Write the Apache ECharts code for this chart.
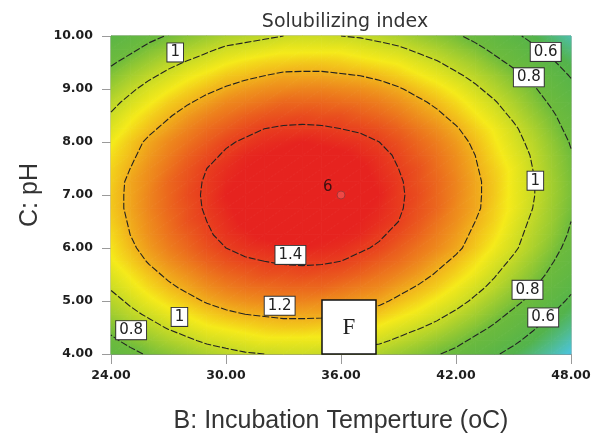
<!DOCTYPE html>
<html>
<head>
<meta charset="utf-8">
<script src="https://cdn.jsdelivr.net/npm/echarts@6/dist/echarts.min.js"></script>
<style>
  html, body { margin: 0; padding: 0; background: #fff; }
  #chart { width: 594px; height: 439px; }
</style>
</head>
<body>
<div id="chart"></div>
<script>
// Grid nodes of the response surface: incubation temperature (°C) × pH
const temperature = [24, 25, 26, 27, 28, 29, 30, 31, 32, 33, 34, 35, 36, 37, 38, 39, 40, 41, 42, 43, 44, 45, 46, 47, 48];
const pH = [4.00, 4.25, 4.50, 4.75, 5.00, 5.25, 5.50, 5.75, 6.00, 6.25, 6.50, 6.75, 7.00,
            7.25, 7.50, 7.75, 8.00, 8.25, 8.50, 8.75, 9.00, 9.25, 9.50, 9.75, 10.00];

// Solubilizing index; one row per pH value (low to high), one column per temperature
const solubilizingIndex = [
  [0.70,0.76,0.82,0.86,0.90,0.94,0.97,0.99,1.00,1.01,1.01,1.00,0.98,0.96,0.94,0.90,0.86,0.81,0.76,0.69,0.62,0.55,0.47,0.38,0.28],
  [0.77,0.84,0.89,0.94,0.98,1.02,1.04,1.06,1.08,1.08,1.08,1.08,1.06,1.04,1.02,0.98,0.94,0.89,0.84,0.77,0.71,0.63,0.55,0.46,0.36],
  [0.84,0.91,0.96,1.01,1.05,1.09,1.11,1.13,1.15,1.16,1.16,1.15,1.14,1.12,1.09,1.05,1.01,0.97,0.91,0.85,0.78,0.71,0.62,0.53,0.44],
  [0.91,0.97,1.02,1.07,1.11,1.15,1.18,1.20,1.21,1.22,1.22,1.22,1.20,1.18,1.16,1.12,1.08,1.03,0.98,0.92,0.85,0.77,0.69,0.60,0.51],
  [0.96,1.02,1.08,1.13,1.17,1.21,1.24,1.26,1.27,1.28,1.28,1.27,1.26,1.24,1.22,1.18,1.14,1.09,1.04,0.98,0.91,0.84,0.76,0.67,0.57],
  [1.01,1.07,1.13,1.18,1.22,1.26,1.29,1.31,1.32,1.33,1.33,1.33,1.31,1.29,1.27,1.23,1.19,1.15,1.09,1.03,0.97,0.89,0.81,0.72,0.63],
  [1.05,1.11,1.17,1.22,1.26,1.30,1.33,1.35,1.37,1.37,1.38,1.37,1.36,1.34,1.31,1.28,1.24,1.19,1.14,1.08,1.01,0.94,0.86,0.77,0.68],
  [1.09,1.15,1.21,1.26,1.30,1.34,1.37,1.39,1.40,1.41,1.41,1.41,1.40,1.38,1.35,1.32,1.28,1.23,1.18,1.12,1.05,0.98,0.90,0.81,0.72],
  [1.11,1.18,1.24,1.29,1.33,1.37,1.40,1.42,1.43,1.44,1.45,1.44,1.43,1.41,1.39,1.35,1.31,1.27,1.22,1.16,1.09,1.02,0.94,0.85,0.75],
  [1.13,1.20,1.26,1.31,1.35,1.39,1.42,1.44,1.46,1.47,1.47,1.46,1.45,1.44,1.41,1.38,1.34,1.29,1.24,1.18,1.12,1.04,0.96,0.88,0.78],
  [1.15,1.21,1.27,1.32,1.37,1.40,1.43,1.46,1.47,1.48,1.49,1.48,1.47,1.45,1.43,1.40,1.36,1.31,1.26,1.20,1.14,1.06,0.98,0.90,0.80],
  [1.16,1.22,1.28,1.33,1.37,1.41,1.44,1.47,1.48,1.49,1.50,1.49,1.48,1.46,1.44,1.41,1.37,1.33,1.27,1.22,1.15,1.08,1.00,0.91,0.82],
  [1.16,1.22,1.28,1.33,1.38,1.41,1.45,1.47,1.49,1.50,1.50,1.50,1.49,1.47,1.45,1.41,1.38,1.33,1.28,1.22,1.16,1.08,1.01,0.92,0.83],
  [1.15,1.22,1.27,1.33,1.37,1.41,1.44,1.46,1.48,1.49,1.50,1.49,1.48,1.47,1.44,1.41,1.37,1.33,1.28,1.22,1.16,1.08,1.01,0.92,0.83],
  [1.14,1.20,1.26,1.31,1.36,1.40,1.43,1.45,1.47,1.48,1.49,1.48,1.47,1.46,1.43,1.40,1.37,1.32,1.27,1.21,1.15,1.08,1.00,0.91,0.82],
  [1.12,1.18,1.24,1.29,1.34,1.38,1.41,1.44,1.45,1.46,1.47,1.47,1.46,1.44,1.42,1.39,1.35,1.31,1.26,1.20,1.13,1.06,0.99,0.90,0.81],
  [1.09,1.16,1.22,1.27,1.31,1.35,1.39,1.41,1.43,1.44,1.45,1.44,1.43,1.42,1.40,1.37,1.33,1.29,1.24,1.18,1.11,1.04,0.97,0.88,0.79],
  [1.05,1.12,1.18,1.23,1.28,1.32,1.35,1.38,1.40,1.41,1.41,1.41,1.40,1.39,1.37,1.34,1.30,1.26,1.21,1.15,1.09,1.02,0.94,0.85,0.76],
  [1.01,1.08,1.14,1.19,1.24,1.28,1.31,1.34,1.36,1.37,1.38,1.37,1.37,1.35,1.33,1.30,1.26,1.22,1.17,1.11,1.05,0.98,0.90,0.82,0.73],
  [0.97,1.03,1.09,1.15,1.19,1.23,1.27,1.29,1.31,1.33,1.33,1.33,1.32,1.31,1.29,1.26,1.22,1.18,1.13,1.07,1.01,0.94,0.86,0.78,0.69],
  [0.91,0.98,1.04,1.09,1.14,1.18,1.21,1.24,1.26,1.27,1.28,1.28,1.27,1.26,1.24,1.21,1.17,1.13,1.08,1.02,0.96,0.89,0.82,0.73,0.64],
  [0.85,0.92,0.98,1.03,1.08,1.12,1.16,1.18,1.20,1.22,1.22,1.22,1.21,1.20,1.18,1.15,1.11,1.07,1.02,0.97,0.91,0.84,0.76,0.68,0.59],
  [0.78,0.85,0.91,0.97,1.01,1.05,1.09,1.12,1.14,1.15,1.16,1.16,1.15,1.13,1.11,1.09,1.05,1.01,0.96,0.91,0.84,0.77,0.70,0.62,0.53],
  [0.71,0.77,0.84,0.89,0.94,0.98,1.02,1.04,1.06,1.08,1.08,1.08,1.08,1.06,1.04,1.02,0.98,0.94,0.89,0.84,0.77,0.71,0.63,0.55,0.46],
  [0.62,0.69,0.76,0.81,0.86,0.90,0.94,0.96,0.98,1.00,1.01,1.01,1.00,0.99,0.97,0.94,0.90,0.86,0.82,0.76,0.70,0.63,0.56,0.47,0.38]
];

// Contour levels and where each level's value is printed: [level, temperature, pH]
const contourLevels = [0.6, 0.8, 1.0, 1.2, 1.4];
const contourLabelSpots = [
  [1, 27.35, 9.69], [0.6, 46.68, 9.70], [0.8, 45.80, 9.22], [1, 46.14, 7.27],
  [1.4, 33.36, 5.87], [1.2, 32.80, 4.91], [1, 27.57, 4.70], [0.8, 25.05, 4.45],
  [0.8, 45.73, 5.21], [0.6, 46.55, 4.69]
];

// Design centre point and its number of replicate runs
const designCenter = [36, 7];
const centerReplicates = 6;

// Axis ticks
const temperatureTicks = [24, 30, 36, 42, 48];
const pHTicks = [4, 5, 6, 7, 8, 9, 10];

// Colour ramp of the surface (low = blue, high = red)
const rampStops = [
  [0.00, '#2b50d8'], [0.30, '#4cc3d6'], [0.55, '#53b34b'], [0.80, '#6dbb3c'],
  [1.10, '#f5ea1a'], [1.45, '#e6231f']
];

// ---------- colour helpers ----------
const rampRGB = rampStops.map(s => [s[0], [1, 3, 5].map(k => parseInt(s[1].substr(k, 2), 16))]);
function rampColor(v) {
  let rgb;
  if (v <= rampRGB[0][0]) rgb = rampRGB[0][1];
  else if (v >= rampRGB[rampRGB.length - 1][0]) rgb = rampRGB[rampRGB.length - 1][1];
  else {
    for (let k = 0; k < rampRGB.length - 1; k++) {
      const [v0, c0] = rampRGB[k], [v1, c1] = rampRGB[k + 1];
      if (v <= v1) {
        const t = (v - v0) / (v1 - v0);
        rgb = c0.map((c, n) => Math.round(c + t * (c1[n] - c)));
        break;
      }
    }
  }
  return 'rgb(' + rgb.join(',') + ')';
}

// Shade one triangle of a grid cell: the value varies linearly across it,
// so a single linear gradient (with the ramp's stops) paints it exactly.
function shadedTriangle(P, F) {
  const [x0, y0] = P[0];
  const d1x = P[1][0] - x0, d1y = P[1][1] - y0, d2x = P[2][0] - x0, d2y = P[2][1] - y0;
  const df1 = F[1] - F[0], df2 = F[2] - F[0];
  const det = d1x * d2y - d1y * d2x;
  const fmin = Math.min(F[0], F[1], F[2]), fmax = Math.max(F[0], F[1], F[2]);
  let fill;
  if (Math.abs(det) < 1e-9 || fmax - fmin < 1e-6) {
    fill = rampColor(F[0]);
  } else {
    const gx = (df1 * d2y - d1y * df2) / det;
    const gy = (d1x * df2 - d2x * df1) / det;
    const g2 = gx * gx + gy * gy;
    const ax = x0 + gx * (fmin - F[0]) / g2, ay = y0 + gy * (fmin - F[0]) / g2;
    const bx = x0 + gx * (fmax - F[0]) / g2, by = y0 + gy * (fmax - F[0]) / g2;
    const stops = [{ offset: 0, color: rampColor(fmin) }];
    rampStops.forEach(s => {
      if (s[0] > fmin && s[0] < fmax) stops.push({ offset: (s[0] - fmin) / (fmax - fmin), color: s[1] });
    });
    stops.push({ offset: 1, color: rampColor(fmax) });
    fill = new echarts.graphic.LinearGradient(ax, ay, bx, by, stops, true);
  }
  return { type: 'polygon', shape: { points: P }, style: { fill: fill, stroke: fill, lineWidth: 0.9 } };
}

// One item per grid cell: lower-left node and its indices
const cellData = [];
for (let j = 0; j < pH.length - 1; j++) {
  for (let i = 0; i < temperature.length - 1; i++) cellData.push([temperature[i], pH[j], i, j]);
}

// Marching squares over the grid cells, returning segments keyed by grid edge
function contourSegments(level) {
  const segs = [];
  for (let j = 0; j < pH.length - 1; j++) {
    for (let i = 0; i < temperature.length - 1; i++) {
      const z00 = solubilizingIndex[j][i], z10 = solubilizingIndex[j][i + 1];
      const z11 = solubilizingIndex[j + 1][i + 1], z01 = solubilizingIndex[j + 1][i];
      const P00 = [temperature[i], pH[j]], P10 = [temperature[i + 1], pH[j]];
      const P11 = [temperature[i + 1], pH[j + 1]], P01 = [temperature[i], pH[j + 1]];
      const pts = [];
      const cross = (za, zb, pa, pb, key) => {
        if ((za >= level) !== (zb >= level)) {
          const t = (level - za) / (zb - za);
          pts.push({ key, p: [pa[0] + t * (pb[0] - pa[0]), pa[1] + t * (pb[1] - pa[1])] });
        }
      };
      cross(z00, z10, P00, P10, 'h' + i + '_' + j);
      cross(z10, z11, P10, P11, 'v' + (i + 1) + '_' + j);
      cross(z01, z11, P01, P11, 'h' + i + '_' + (j + 1));
      cross(z00, z01, P00, P01, 'v' + i + '_' + j);
      if (pts.length === 2) {
        segs.push(pts);
      } else if (pts.length === 4) {
        const mid = (z00 + z10 + z11 + z01) / 4;
        if ((mid >= level) === (z00 >= level)) { segs.push([pts[0], pts[1]]); segs.push([pts[2], pts[3]]); }
        else { segs.push([pts[0], pts[3]]); segs.push([pts[1], pts[2]]); }
      }
    }
  }
  return segs;
}

// Join segments that share an edge into continuous polylines
function chainSegments(segs) {
  const byKey = new Map();
  segs.forEach((s, idx) => s.forEach(e => {
    if (!byKey.has(e.key)) byKey.set(e.key, []);
    byKey.get(e.key).push(idx);
  }));
  const used = new Array(segs.length).fill(false);
  const walk = (startIdx, entry) => {
    const pts = [];
    let idx = startIdx;
    while (idx !== undefined && !used[idx]) {
      used[idx] = true;
      const a = segs[idx][entry], b = segs[idx][1 - entry];
      if (!pts.length) pts.push(a.p);
      pts.push(b.p);
      const next = (byKey.get(b.key) || []).find(k => !used[k]);
      if (next === undefined) break;
      entry = segs[next][0].key === b.key ? 0 : 1;
      idx = next;
    }
    return pts;
  };
  const lines = [];
  segs.forEach((s, idx) => {
    if (used[idx]) return;
    if (byKey.get(s[0].key).length === 1) lines.push(walk(idx, 0));
    else if (byKey.get(s[1].key).length === 1) lines.push(walk(idx, 1));
  });
  segs.forEach((s, idx) => { if (!used[idx]) lines.push(walk(idx, 0)); });
  return lines;
}

const contourSeries = [];
contourLevels.forEach(level => {
  chainSegments(contourSegments(level)).forEach(line => {
    contourSeries.push({
      type: 'line',
      data: line,
      showSymbol: false,
      symbol: 'none',
      silent: true,
      z: 3,
      lineStyle: { color: '#222', width: 1.1, type: [7, 2] }
    });
  });
});

const chart = echarts.init(document.getElementById('chart'), null, { renderer: 'canvas' });

chart.setOption({
  backgroundColor: '#fff',
  animation: false,
  title: {
    text: 'Solubilizing index',
    left: 340,
    top: 8,
    textAlign: 'center',
    textStyle: { fontFamily: 'DejaVu Sans', fontSize: 19, fontWeight: 'normal', color: '#333' }
  },
  grid: {
    left: 111, right: 23, top: 36, bottom: 85,
    show: true, borderColor: '#8a8a8a', borderWidth: 1, backgroundColor: 'transparent'
  },
  xAxis: {
    type: 'value',
    min: temperatureTicks[0],
    max: temperatureTicks[temperatureTicks.length - 1],
    interval: temperatureTicks[1] - temperatureTicks[0],
    name: 'B: Incubation Temperture (oC)',
    nameLocation: 'middle',
    nameGap: 55,
    nameTextStyle: { fontFamily: 'Liberation Sans', fontSize: 25, color: '#333' },
    axisLine: { show: true, lineStyle: { color: '#8a8a8a', width: 1 } },
    axisTick: { show: true, length: 10, lineStyle: { color: '#9a9a9a' } },
    splitLine: { show: false },
    axisLabel: {
      margin: 15,
      formatter: v => v.toFixed(2),
      fontFamily: 'DejaVu Sans', fontWeight: 'bold', fontSize: 12.5, color: '#1e1e1e'
    }
  },
  yAxis: {
    type: 'value',
    min: pHTicks[0],
    max: pHTicks[pHTicks.length - 1],
    interval: pHTicks[1] - pHTicks[0],
    name: 'C: pH',
    nameLocation: 'middle',
    nameGap: 68,
    nameTextStyle: { fontFamily: 'Liberation Sans', fontSize: 25, color: '#333' },
    axisLine: { show: true, lineStyle: { color: '#8a8a8a', width: 1 } },
    axisTick: { show: true, length: 9, lineStyle: { color: '#9a9a9a' } },
    splitLine: { show: false },
    axisLabel: {
      margin: 18,
      formatter: v => v.toFixed(2),
      fontFamily: 'DejaVu Sans', fontWeight: 'bold', fontSize: 12.5, color: '#1e1e1e'
    }
  },
  series: [
    {
      type: 'custom',
      data: cellData,
      encode: { x: 0, y: 1 },
      silent: true,
      z: 1,
      renderItem: (params, api) => {
        const i = api.value(2), j = api.value(3);
        const pA = api.coord([temperature[i], pH[j]]);
        const pB = api.coord([temperature[i + 1], pH[j]]);
        const pC = api.coord([temperature[i + 1], pH[j + 1]]);
        const pD = api.coord([temperature[i], pH[j + 1]]);
        const fA = solubilizingIndex[j][i], fB = solubilizingIndex[j][i + 1];
        const fC = solubilizingIndex[j + 1][i + 1], fD = solubilizingIndex[j + 1][i];
        return {
          type: 'group',
          children: [
            shadedTriangle([pA, pB, pC], [fA, fB, fC]),
            shadedTriangle([pA, pC, pD], [fA, fC, fD])
          ]
        };
      }
    },
    ...contourSeries,
    {
      type: 'scatter',
      data: contourLabelSpots.map(s => [s[1], s[2], s[0]]),
      encode: { x: 0, y: 1 },
      symbolSize: 0,
      itemStyle: { color: 'transparent', opacity: 1 },
      silent: true,
      z: 5,
      label: {
        show: true,
        position: 'inside',
        formatter: p => String(p.value[2]),
        fontFamily: 'DejaVu Sans', fontSize: 15, color: '#222',
        backgroundColor: '#fff', borderColor: '#333', borderWidth: 1,
        padding: [2, 3, 1, 3]
      }
    },
    {
      type: 'scatter',
      data: [designCenter],
      symbol: 'circle',
      symbolSize: 8,
      silent: true,
      z: 5,
      itemStyle: { color: 'rgba(255,140,140,0.35)', borderColor: '#a83434', borderWidth: 1, opacity: 1 },
      label: {
        show: true,
        position: 'left',
        distance: 4,
        offset: [0, -8],
        formatter: () => String(centerReplicates),
        fontFamily: 'DejaVu Sans', fontSize: 15, color: '#3c1010'
      }
    }
  ],
  graphic: [
    { type: 'rect', z: 100, shape: { x: 322, y: 300, width: 54, height: 54 },
      style: { fill: '#fff', stroke: '#111', lineWidth: 1.5 } },
    { type: 'text', z: 101, x: 349, y: 328,
      style: { text: 'F', fontFamily: 'Liberation Serif', fontSize: 23, fill: '#222',
               align: 'center', verticalAlign: 'middle' } }
  ]
});
</script>
</body>
</html>
